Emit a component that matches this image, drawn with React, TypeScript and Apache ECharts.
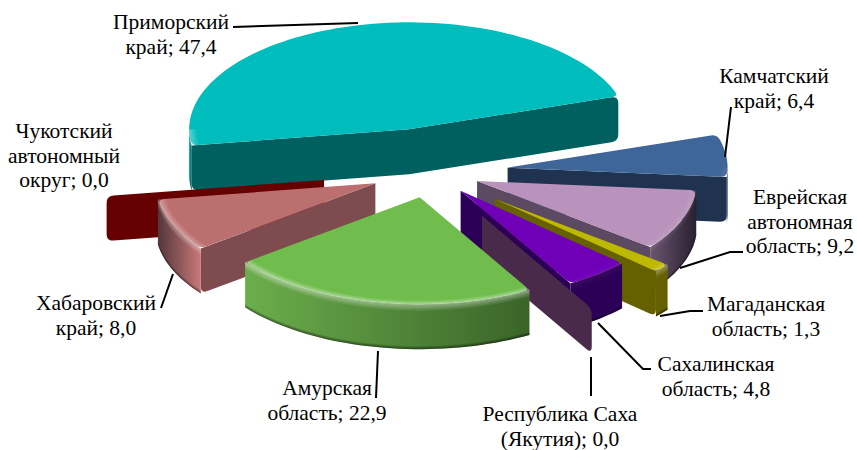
import React, { useEffect, useRef } from "react";
import * as echarts from "echarts";

const regions = ["Приморский край", "Камчатский край", "Еврейская автономная область", "Магаданская область", "Сахалинская область", "Республика Саха (Якутия)", "Амурская область", "Хабаровский край", "Чукотский автономный округ"];
const values = [47.4, 6.4, 9.2, 1.3, 4.8, 0.0, 22.9, 8.0, 0.0];
const explosions = [0.41, 0.355, 0.23, 0.385, 0.223, 0.473, 0.24, 0.27, 0.487];
const drawOrder = [0, 1, 2, 3, 4, 5, 8, 7, 6];
const topColors = ["#00BDBD", "#3F6699", "#B993BC", "#BDB800", "#7000B8", "#4A2A4A", "#70BD4E", "#BB6F6F", "#660000"];
const wallColors = ["#006060", "#1F3350", "#5C4A62", "#666100", "#2D0058", "#4A2A4A", "#4A7F33", "#7E4B4E", "#660000"];
const rimStops = [
  ["#00A8A8", "#006060"], ["#1F3350", "#1F3350"], ["#6A5570", "#2A2030"], ["#666100", "#666100"],
  ["#2D0058", "#2D0058"], ["#4A2A4A", "#4A2A4A"], ["#6BAE4C", "#3A6428"], ["#53363A", "#C87878"], ["#660000", "#660000"],
];
const bevelAlpha = [0.3, 0.08, 0.1, 0.3, 0.05, 0, 0.4, 0.35, 0];

const labels = [
  { text: "Приморский\nкрай; 47,4", x: 171, y: 10 },
  { text: "Камчатский\nкрай; 6,4", x: 774, y: 64 },
  { text: "Еврейская\nавтономная\nобласть; 9,2", x: 800, y: 185 },
  { text: "Магаданская\nобласть; 1,3", x: 766, y: 292 },
  { text: "Сахалинская\nобласть; 4,8", x: 716, y: 352 },
  { text: "Республика Саха\n(Якутия); 0,0", x: 560, y: 402 },
  { text: "Амурская\nобласть; 22,9", x: 327, y: 376 },
  { text: "Хабаровский\nкрай; 8,0", x: 96, y: 291 },
  { text: "Чукотский\nавтономный\nокруг; 0,0", x: 64, y: 119 },
];
const leaders = [
  [[233, 27], [358, 23]],
  [[731, 107], [725, 157]],
  [[680, 268], [730, 252], [743, 252]],
  [[660, 316], [690, 311], [703, 311]],
  [[598, 323], [643, 369], [651, 369]],
  [[591, 357], [591, 396]],
  [[378, 351], [376, 398]],
  [[173, 274], [161, 308]],
];

const CX = 430, CY = 172, RX = 220, RY = 107, DEPTH = 45;
const rad = (d: number) => (d * Math.PI) / 180;
const total = values.reduce((a, b) => a + b, 0);
const START_ANGLE = -98.7;

function sliceAngles(i: number) {
  let acc = 0;
  for (let k = 0; k < i; k++) acc += values[k];
  const a = START_ANGLE + (acc / total) * 360;
  return [a, a + (values[i] / total) * 360];
}

// replaces the listed vertices of a polygon with short curves
function rounded(points: number[][], corners: number[], r: number) {
  const out: number[][] = [];
  points.forEach((p, idx) => {
    if (!corners.includes(idx)) {
      out.push(p);
      return;
    }
    const n = points.length;
    const walk = (step: number) => {
      let left = r;
      let a = p;
      let k = idx;
      for (let c = 0; c < n; c++) {
        k = (k + step + n) % n;
        const b = points[k];
        const d = Math.hypot(b[0] - a[0], b[1] - a[1]);
        if (d >= left) {
          const t = d ? left / d : 0;
          return [a[0] + (b[0] - a[0]) * t, a[1] + (b[1] - a[1]) * t];
        }
        left -= d;
        a = b;
      }
      return p;
    };
    const s = walk(-1), e = walk(1);
    for (let t = 0; t <= 1.001; t += 0.2) {
      const u = 1 - t;
      out.push([u * u * s[0] + 2 * u * t * p[0] + t * t * e[0], u * u * s[1] + 2 * u * t * p[1] + t * t * e[1]]);
    }
  });
  return out;
}

function renderSlice(_p: any, api: any) {
  const i = api.value(1) as number;
  const [a1, a2] = sliceAngles(i);
  const mid = rad((a1 + a2) / 2);
  const e = explosions[i];
  const ox = CX + RX * e * Math.sin(mid);
  const oy = CY - RY * e * Math.cos(mid);
  const pt = (deg: number, r: number, dz = 0): number[] => [
    ox + RX * r * Math.sin(rad(deg)),
    oy - RY * r * Math.cos(rad(deg)) + dz,
  ];
  const arc = (from: number, to: number, r: number, dz = 0) => {
    const n = Math.max(2, Math.ceil(Math.abs(to - from) / 2));
    const out: number[][] = [];
    for (let k = 0; k <= n; k++) out.push(pt(from + ((to - from) * k) / n, r, dz));
    return out;
  };
  const apex = pt(0, 0);
  const down = (p: number[]) => [p[0], p[1] + DEPTH];
  const children: any[] = [];
  const poly = (points: number[][], fill: any) =>
    children.push({ type: "polygon", shape: { points }, style: { fill } });
  const grad = (stops: string[]) =>
    new echarts.graphic.LinearGradient(0, 0, 1, 0, [
      { offset: 0, color: stops[0] },
      { offset: 1, color: stops[1] },
    ]);
  const showStart = Math.sin(rad(a1)) < 0;
  const showEnd = Math.sin(rad(a2)) > 0;
  const R1 = pt(a1, 1), R2 = pt(a2, 1);
  const freeCorner = (deg: number) => a1 === a2 || Math.cos(rad(deg)) > 0;
  if (showStart && showEnd) {
    const c = [3, 5];
    if (freeCorner(a1)) c.push(0);
    if (freeCorner(a2)) c.push(2);
    poly(rounded([R1, apex, R2, down(R2), down(apex), down(R1)], c, 7), wallColors[i]);
  } else if (showEnd) {
    poly(rounded([apex, R2, down(R2), down(apex)], freeCorner(a2) ? [1, 2] : [2], 7), wallColors[i]);
  } else if (showStart) {
    poly(rounded([apex, R1, down(R1), down(apex)], freeCorner(a1) ? [1, 2] : [2], 7), wallColors[i]);
  }

  const ranges = [
    [Math.max(a1, 90), Math.min(a2, 270)],
    [Math.max(a1, -270), Math.min(a2, -90)],
  ].filter((r) => r[1] > r[0]);
  const leftRight = (f: number, t: number) => (pt(f, 1)[0] < pt(t, 1)[0] ? [f, t] : [t, f]);

  ranges.forEach(([f, t]) => {
    const [l, r] = leftRight(f, t);
    poly([...arc(l, r, 1), ...arc(r, l, 1, DEPTH)], grad(rimStops[i]));
    for (let k = 0; k < 3; k++) {
      poly([...arc(l, r, 1, DEPTH - 3 + k), ...arc(r, l, 1, DEPTH - 2 + k)], `rgba(0,0,0,${0.15 + k * 0.15})`);
    }
  });

  if (a2 > a1) {
    const top = [apex, ...arc(a1, a2, 1)];
    poly(rounded(top, [1, top.length - 1], 6), topColors[i]);
    if (bevelAlpha[i] > 0) {
      ranges.forEach(([f, t]) => {
        const [l, r] = leftRight(f, t);
        const A = bevelAlpha[i];
        const N = 5;
        for (let k = 0; k < N; k++) {
          const alpha = (A * (k + 1)) / N;
          poly([...arc(l, r, 0.965 + k * 0.007), ...arc(r, l, 0.972 + k * 0.007)], `rgba(255,255,255,${alpha})`);
        }
        for (let k = 0; k < N; k++) {
          const alpha = (A * (N - k)) / N;
          poly([...arc(l, r, 1, k * 1.3), ...arc(r, l, 1, (k + 1) * 1.3)], `rgba(255,255,255,${alpha})`);
        }
      });
    }
  }
  return { type: "group", children };
}

export default function App() {
  const ref = useRef<HTMLDivElement>(null);
  useEffect(() => {
    document.body.style.margin = "0";
    const chart = echarts.init(ref.current!, null, { renderer: "svg" });
    chart.setOption({
      animation: false,
      backgroundColor: "#fff",
      series: [
        {
          type: "custom",
          coordinateSystem: "none",
          silent: true,
          renderItem: renderSlice,
          data: drawOrder.map((i) => ({ name: regions[i], value: [values[i], i] })),
        },
      ],
      graphic: [
        ...leaders.map((points) => ({
          type: "polyline",
          silent: true,
          z: 10,
          shape: { points },
          style: { stroke: "#000", lineWidth: 2, fill: "none" },
        })),
        ...labels.map((l) => ({
          type: "text",
          silent: true,
          z: 10,
          x: l.x,
          y: l.y,
          style: {
            text: l.text,
            fill: "#000",
            font: '21.5px "Liberation Serif"',
            lineHeight: 24.5,
            align: "center",
            verticalAlign: "top",
          },
        })),
      ],
    });
    return () => chart.dispose();
  }, []);
  return <div ref={ref} style={{ width: 857, height: 450 }} />;
}
